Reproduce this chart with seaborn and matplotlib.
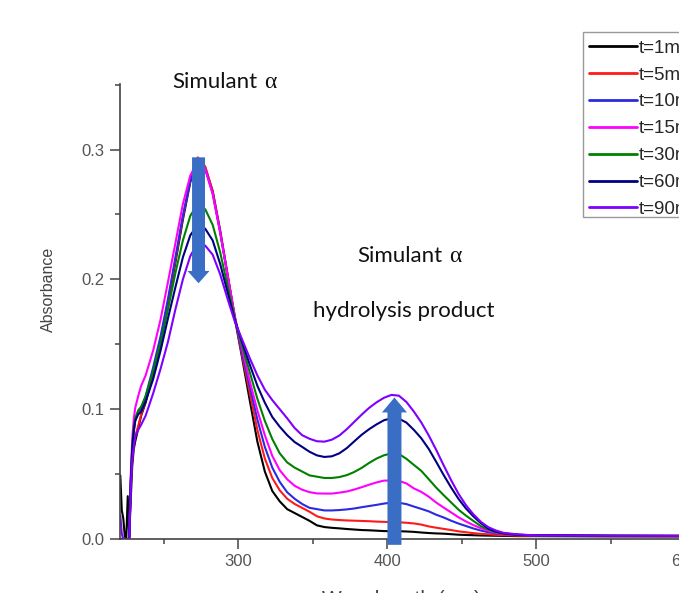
import matplotlib
matplotlib.use("Agg")
import matplotlib.pyplot as plt
import pandas as pd
import seaborn as sns
from matplotlib.patches import FancyArrow, Rectangle
from matplotlib.ticker import MultipleLocator, FormatStrFormatter

# Wavelength grid (nm)
wavelength = [221, 222, 223, 224, 225, 226, 227, 228, 229, 230, 231, 233, 235,
              238, 243, 248, 253, 258, 263, 268, 273, 278, 283, 288, 293, 298,
              303, 308, 313, 318, 323, 328, 333, 338, 343, 348, 353, 358, 363,
              368, 373, 378, 383, 388, 393, 398, 403, 408, 413, 418, 423, 428,
              433, 438, 443, 448, 453, 458, 463, 468, 473, 478,
              488, 498, 550, 600, 700, 800]

# Absorbance spectra recorded at each time point
abs_t1 = [0.049, 0.022, 0.016, 0.002, 0.0, 0.033, 0.002, 0.030, 0.056, 0.069, 0.075, 0.085, 0.095,
          0.105, 0.127, 0.151, 0.181, 0.213, 0.246, 0.275, 0.293, 0.286, 0.268, 0.237, 0.203, 0.169,
          0.138, 0.106, 0.075, 0.052, 0.037, 0.029, 0.023, 0.020, 0.017, 0.014, 0.0105, 0.0092, 0.0086,
          0.0082, 0.0077, 0.0073, 0.0069, 0.0067, 0.0064, 0.0061, 0.0060, 0.0060, 0.0058, 0.0055, 0.0050, 0.0046,
          0.0043, 0.0041, 0.0037, 0.0033, 0.0031, 0.0029, 0.0027, 0.0026, 0.0025, 0.0024,
          0.0022, 0.0022, 0.0020, 0.0019, 0.0018, 0.0018]
abs_t5 = [0.0, 0.0, 0.0, 0.0, 0.0, 0.0, 0.0, 0.040, 0.063, 0.073, 0.079, 0.087, 0.096,
          0.106, 0.129, 0.153, 0.183, 0.215, 0.248, 0.277, 0.294, 0.287, 0.268, 0.238, 0.204, 0.170,
          0.140, 0.112, 0.084, 0.062, 0.047, 0.0375, 0.031, 0.027, 0.024, 0.021, 0.0175, 0.0158, 0.0150,
          0.0146, 0.0143, 0.0141, 0.0139, 0.0137, 0.0134, 0.0132, 0.0130, 0.0129, 0.0125, 0.0120, 0.0111, 0.0097,
          0.0087, 0.0078, 0.0069, 0.0059, 0.0052, 0.0045, 0.0040, 0.0036, 0.0032, 0.0030,
          0.0026, 0.0025, 0.0022, 0.0021, 0.0020, 0.0020]
abs_t10 = [0.0, 0.0, 0.0, 0.0, 0.0, 0.0, 0.0, 0.043, 0.068, 0.082, 0.091, 0.098, 0.100,
           0.110, 0.132, 0.156, 0.185, 0.217, 0.249, 0.276, 0.291, 0.285, 0.266, 0.237, 0.203, 0.170,
           0.142, 0.117, 0.092, 0.071, 0.055, 0.044, 0.036, 0.031, 0.027, 0.024, 0.023, 0.022, 0.022,
           0.0223, 0.0228, 0.0235, 0.0245, 0.0254, 0.0263, 0.0273, 0.0280, 0.0279, 0.0269, 0.0250, 0.0232, 0.0213,
           0.0187, 0.0166, 0.0141, 0.0119, 0.0100, 0.0081, 0.0065, 0.0052, 0.0044, 0.0039,
           0.0032, 0.0029, 0.0025, 0.0024, 0.0023, 0.0022]
abs_t15 = [0.0, 0.0, 0.0, 0.0, 0.0, 0.0, 0.0, 0.049, 0.077, 0.092, 0.101, 0.110, 0.118,
           0.126, 0.145, 0.169, 0.198, 0.228, 0.258, 0.280, 0.291, 0.285, 0.266, 0.236, 0.203, 0.171,
           0.145, 0.121, 0.099, 0.080, 0.064, 0.053, 0.046, 0.041, 0.038, 0.0361, 0.0351, 0.0350, 0.0350,
           0.0357, 0.0366, 0.0381, 0.0399, 0.0418, 0.0436, 0.0450, 0.0450, 0.0448, 0.0428, 0.0390, 0.0363, 0.0326,
           0.0281, 0.0242, 0.0205, 0.0167, 0.0135, 0.0107, 0.0083, 0.0064, 0.0048, 0.0039,
           0.0032, 0.0029, 0.0025, 0.0024, 0.0023, 0.0022]
abs_t30 = [0.0, 0.0, 0.0, 0.0, 0.0, 0.0, 0.0, 0.044, 0.071, 0.085, 0.093, 0.099, 0.102,
           0.110, 0.129, 0.151, 0.177, 0.205, 0.230, 0.249, 0.258, 0.254, 0.242, 0.221, 0.195, 0.169,
           0.148, 0.128, 0.108, 0.091, 0.077, 0.066, 0.059, 0.055, 0.052, 0.049, 0.048, 0.047, 0.047,
           0.0477, 0.0492, 0.0516, 0.0548, 0.0586, 0.0620, 0.0645, 0.0660, 0.0655, 0.0618, 0.0571, 0.0525, 0.0461,
           0.0396, 0.0338, 0.0282, 0.0226, 0.0180, 0.0139, 0.0099, 0.0073, 0.0053, 0.0043,
           0.0032, 0.0029, 0.0025, 0.0024, 0.0023, 0.0022]
abs_t60 = [0.0, 0.0, 0.0, 0.0, 0.0, 0.0, 0.0, 0.043, 0.069, 0.083, 0.091, 0.096, 0.098,
           0.106, 0.123, 0.145, 0.170, 0.194, 0.217, 0.234, 0.242, 0.239, 0.230, 0.212, 0.190, 0.168,
           0.151, 0.134, 0.118, 0.105, 0.094, 0.0865, 0.080, 0.0747, 0.071, 0.0672, 0.0644, 0.0632, 0.0637,
           0.066, 0.070, 0.0752, 0.0803, 0.0846, 0.0883, 0.0915, 0.093, 0.0927, 0.0897, 0.0841, 0.0776, 0.0694,
           0.0595, 0.0493, 0.0397, 0.0309, 0.0235, 0.0174, 0.0122, 0.0081, 0.0057, 0.0043,
           0.0032, 0.0029, 0.0025, 0.0024, 0.0023, 0.0022]
abs_t90 = [0.018, 0.004, 0.0, 0.0, 0.0, 0.0, 0.0, 0.039, 0.061, 0.071, 0.079, 0.084, 0.088,
           0.095, 0.112, 0.131, 0.152, 0.177, 0.200, 0.218, 0.228, 0.226, 0.219, 0.204, 0.185, 0.167,
           0.153, 0.139, 0.126, 0.115, 0.107, 0.100, 0.093, 0.0855, 0.080, 0.0772, 0.0753, 0.075, 0.0765,
           0.0797, 0.0846, 0.0902, 0.0958, 0.101, 0.1053, 0.1088, 0.111, 0.1104, 0.1056, 0.0982, 0.0898, 0.0798,
           0.0687, 0.0568, 0.0454, 0.0348, 0.026, 0.019, 0.0132, 0.0091, 0.0066, 0.0048,
           0.0035, 0.0029, 0.0025, 0.0024, 0.0023, 0.0022]

time_labels = ["t=1min", "t=5min", "t=10min", "t=15min", "t=30min", "t=60min", "t=90min"]
line_colors = ["#000000", "#ff1a1a", "#2a2ae0", "#ff00ff", "#008000", "#000080", "#7f00ff"]
series = [abs_t1, abs_t5, abs_t10, abs_t15, abs_t30, abs_t60, abs_t90]

frames = [pd.DataFrame({"wavelength": wavelength, "absorbance": vals, "time": lab})
          for lab, vals in zip(time_labels, series)]
spectra = pd.concat(frames, ignore_index=True)

sns.set_style("ticks")
plt.rcParams["font.family"] = ["Liberation Sans", "DejaVu Sans"]

W, H = 679, 593
fig = plt.figure(figsize=(W / 100, H / 100), dpi=100)
# plot area: left spine at x=120 px, zero line at y=539 px, 1.49 px per nm
ax = fig.add_axes([120 / W, 54 / H, 863 / W, 455 / H])

sns.lineplot(data=spectra, x="wavelength", y="absorbance", hue="time",
             palette=dict(zip(time_labels, line_colors)), hue_order=time_labels,
             estimator=None, sort=False, linewidth=1.5, legend=False, ax=ax)

ax.set_xlim(220.8, 800)
ax.set_ylim(0, 0.3505)
ax.xaxis.set_major_locator(MultipleLocator(100))
ax.xaxis.set_minor_locator(MultipleLocator(50))
ax.yaxis.set_major_locator(MultipleLocator(0.1))
ax.yaxis.set_minor_locator(MultipleLocator(0.05))
ax.yaxis.set_major_formatter(FormatStrFormatter("%.1f"))

sns.despine(ax=ax)
for side in ("left", "bottom"):
    ax.spines[side].set_color("#444444")
    ax.spines[side].set_linewidth(1.2)
ax.tick_params(which="major", direction="out", length=7, width=1.1,
               color="#444444", labelsize=12, labelcolor="#555555", pad=4)
ax.tick_params(which="minor", direction="out", length=3.5, width=1.1, color="#444444")

ax.set_xlabel("Wavelength (nm)", fontsize=15, color="#444444")
ax.set_ylabel("Absorbance", fontsize=11.5, color="#444444")
ax.xaxis.set_label_coords((401 - 120) / 863, -(590 - 539) / 455)
ax.yaxis.set_label_coords((56 - 120) / 863, (539 - 289) / 455)

# direction-of-change arrows
arrow_blue = "#3a6ec4"
ax.add_patch(FancyArrow(273.5, 0.294, 0, -0.097, width=8.7, head_width=14.8,
                        head_length=0.0095, length_includes_head=True,
                        color=arrow_blue, zorder=5, linewidth=0))
ax.add_patch(FancyArrow(405, -0.0045, 0, 0.1135, width=9.4, head_width=16.8,
                        head_length=0.0115, length_includes_head=True,
                        color=arrow_blue, zorder=5, linewidth=0, clip_on=False))

# annotations: sans-serif words followed by a serif alpha
renderer = fig.canvas.get_renderer()


def ftext(x, y, s, alpha=False):
    t = fig.text(x / W, 1 - y / H, s, fontsize=16, family=["Lato", "DejaVu Sans"],
                 ha="left", va="center", color="#111111")
    if alpha:
        bb = t.get_window_extent(renderer=renderer)
        fig.text((bb.x1 + 7) / W, 1 - y / H, "\u03b1", fontsize=17,
                 family=["Liberation Serif", "DejaVu Serif"],
                 ha="left", va="center", color="#111111")


ftext(172, 82, "Simulant", alpha=True)
ftext(357, 256, "Simulant", alpha=True)
ftext(313, 311, "hydrolysis product")

# legend entries without their own frame; a plain box is drawn around them
handles = ax.get_lines()[:len(time_labels)]
leg = ax.legend(handles, time_labels, loc="upper left",
                bbox_to_anchor=(583 / W, 1 - 34 / H), bbox_transform=fig.transFigure,
                frameon=False, fontsize=13.5, handlelength=2.6, handletextpad=0.08,
                labelspacing=0.52, borderpad=0.3, borderaxespad=0)
for line in leg.get_lines():
    line.set_linewidth(2.0)
fig.add_artist(Rectangle((583 / W, 1 - 217 / H), 130 / W, 185 / H,
                         transform=fig.transFigure, fill=False,
                         edgecolor="#9a9a9a", linewidth=1.0))

fig.savefig("out.png", dpi=100)
